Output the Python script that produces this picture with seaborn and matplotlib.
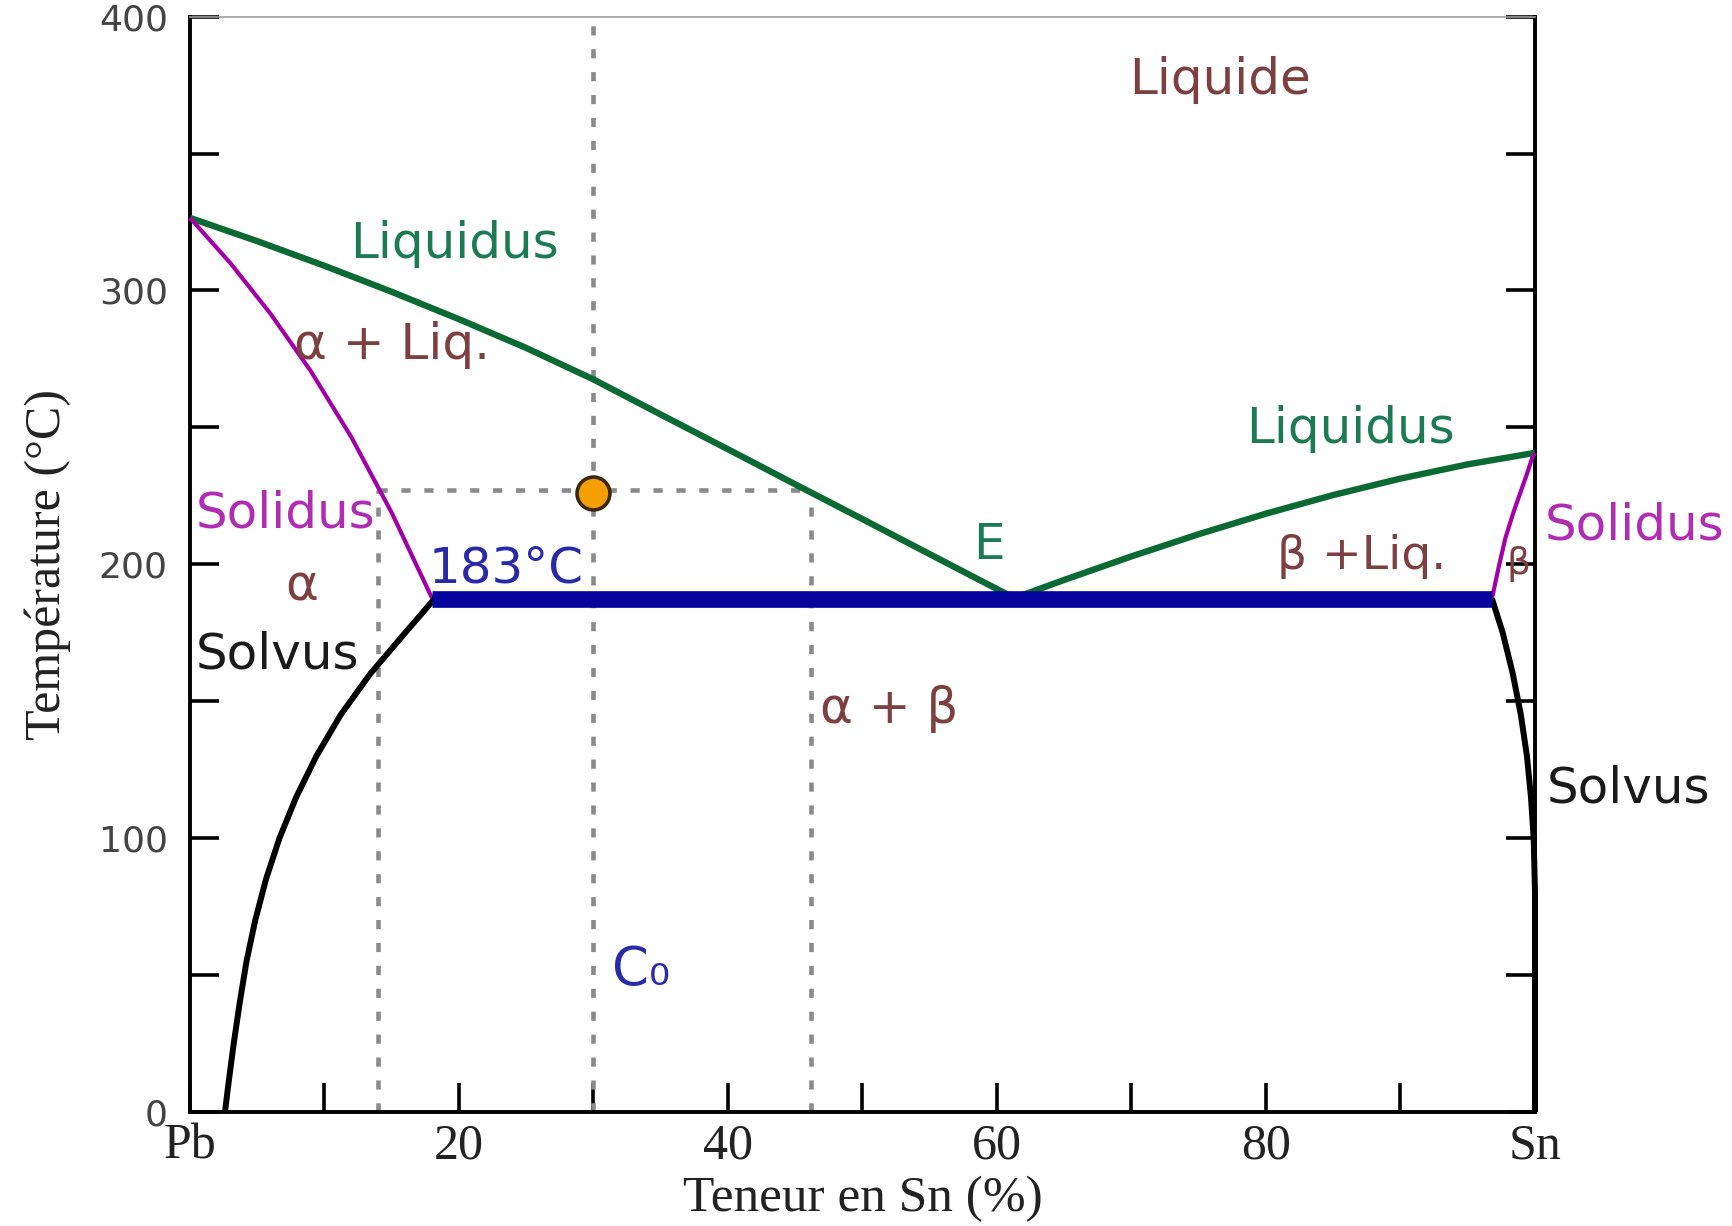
import matplotlib
matplotlib.use("Agg")
import matplotlib.pyplot as plt
import seaborn as sns

# ---------------- data ----------------
liq_left_x = [0, 5, 10, 15, 20, 25, 30, 35, 40, 45, 50, 55, 61.2]
liq_left_t = [326.5, 318, 309, 299.5, 289.5, 279, 267.5, 254.7, 242, 229.2, 216.5, 203.7, 187.9]

liq_right_x = [61.2, 65, 70, 75, 80, 85, 90, 95, 100]
liq_right_t = [187.5, 194.3, 202.9, 211.0, 218.5, 225.3, 231.3, 236.5, 240.7]

sol_left_x = [0, 3, 6, 9, 12, 15, 18]
sol_left_t = [326.5, 310, 291.4, 270.4, 246.4, 218.8, 187.6]

solv_left_x = [18.2, 16.0, 13.4, 11.2, 9.4, 7.9, 6.65, 5.65, 4.85, 4.2, 3.7, 3.25, 2.85, 2.6]
solv_left_t = [187.5, 175, 160, 145, 130, 115, 100, 85, 70, 55, 40, 25, 10, 0]

sol_right_x = [96.8, 97.3, 97.8, 98.4, 98.9, 99.4, 99.8, 100]
sol_right_t = [187.5, 199, 209.6, 219, 226, 233, 239, 240.7]

solv_right_x = [96.8, 97.6, 98.35, 98.95, 99.4, 99.7, 99.9, 100, 100]
solv_right_t = [187.5, 175, 160, 145, 130, 115, 100, 80, 0]

eut_x = [18, 96.8]
eut_t = [187.5, 187.5]

c0 = 30.0
t_point = 226.0
x_alpha_end = 14.0
x_liq_end = 46.2
t_guide = 227.0

x_ticks = [0, 10, 20, 30, 40, 50, 60, 70, 80, 90, 100]
x_ticklabels = ["Pb", "", "20", "", "40", "", "60", "", "80", "", "Sn"]
y_ticks = [0, 50, 100, 150, 200, 250, 300, 350, 400]
y_ticklabels = ["0", "", "100", "", "200", "", "300", "", "400"]

# ---------------- styling ----------------
sns.set_theme(style="white")
plt.rcParams["font.family"] = ["DejaVu Sans"]

GREEN = "#0b6a34"
MAGENTA = "#a300a8"
BLUE = "#05059c"
BROWN = "#7d3f40"
GREEN_T = "#1c7a55"
MAGENTA_T = "#b02db3"
BLUE_T = "#2a2aa8"

fig = plt.figure(figsize=(17.33, 12.26), dpi=100)
ax = fig.add_axes([190 / 1733, 1 - 1112 / 1226, (1535 - 190) / 1733, (1112 - 16.6) / 1226])

# guide dotted lines
dot = dict(color="#8a8a8a", linewidth=3.3, linestyle=(0, (2, 3)), zorder=1)
ax.plot([c0, c0], [0, 400], **dot)
ax.plot([x_alpha_end, x_liq_end], [t_guide, t_guide], **dot)
ax.plot([x_alpha_end, x_alpha_end], [0, t_guide], **dot)
ax.plot([x_liq_end, x_liq_end], [0, t_guide], **dot)

common = dict(sort=False, estimator=None, legend=False, ax=ax)
sns.lineplot(x=liq_left_x, y=liq_left_t, color=GREEN, linewidth=4.6, zorder=3, **common)
sns.lineplot(x=liq_right_x, y=liq_right_t, color=GREEN, linewidth=4.6, zorder=3, **common)
sns.lineplot(x=sol_left_x, y=sol_left_t, color=MAGENTA, linewidth=3.0, zorder=3, **common)
sns.lineplot(x=sol_right_x, y=sol_right_t, color=MAGENTA, linewidth=3.0, zorder=3, **common)
sns.lineplot(x=solv_left_x, y=solv_left_t, color="black", linewidth=4.3, zorder=3, **common)
sns.lineplot(x=solv_right_x, y=solv_right_t, color="black", linewidth=4.3, zorder=3, **common)
sns.lineplot(x=eut_x, y=eut_t, color=BLUE, linewidth=12, zorder=4, **common)
for ln in ax.get_lines():
    ln.set_clip_on(False)
    ln.set_solid_capstyle("butt")
    ln.set_solid_joinstyle("round")

sns.scatterplot(x=[c0], y=[t_point], s=560, color="#f5a000", edgecolor="#3a2808",
                linewidth=2.6, zorder=6, legend=False, ax=ax, clip_on=False)

# annotations
notes = [
    ("Liquide", 76.6, 377, BROWN, 36, "center"),
    ("Liquidus", 19.7, 317, GREEN_T, 36, "center"),
    ("α + Liq.", 15.0, 280, BROWN, 36, "center"),
    ("Liquidus", 86.3, 249.5, GREEN_T, 36, "center"),
    ("Solidus", 0.4, 218.4, MAGENTA_T, 36, "left"),
    ("183°C", 23.5, 198.3, BLUE_T, 36, "center"),
    ("E", 59.4, 207, GREEN_T, 36, "center"),
    ("α", 8.3, 192, BROWN, 36, "center"),
    ("Solvus", 0.4, 167, "#1a1a1a", 36, "left"),
    ("α + β", 52.0, 147, BROWN, 36, "center"),
    ("β +Liq.", 87.1, 203, BROWN, 34, "center"),
    ("β", 98.75, 200, BROWN, 27, "center"),
    ("Solidus", 100.7, 214, MAGENTA_T, 36, "left"),
    ("Solvus", 100.9, 118, "#1a1a1a", 36, "left"),
    ("C₀", 33.5, 52, BLUE_T, 38, "center"),
]
for txt, x, y, col, fs, ha in notes:
    ax.text(x, y, txt, color=col, fontsize=fs, ha=ha, va="center", zorder=7, clip_on=False)

# axes
ax.set_xlim(0, 100)
ax.set_ylim(0, 400)
ax.set_xticks(x_ticks)
ax.set_xticklabels(x_ticklabels, family="Liberation Serif", fontsize=36, color="#222222")
ax.set_yticks(y_ticks)
ax.set_yticklabels(y_ticklabels, fontsize=26, color="#444444")
ax.tick_params(axis="both", direction="in", length=21, width=2.6, color="black")
ax.tick_params(axis="x", pad=8)
ax.tick_params(axis="y", pad=16, right=True, left=True)
ax.tick_params(axis="x", top=False, bottom=True)

for side in ["left", "bottom", "right"]:
    ax.spines[side].set_visible(True)
    ax.spines[side].set_color("black")
    ax.spines[side].set_linewidth(2.8)
ax.spines["top"].set_visible(True)
ax.spines["top"].set_color("#a0a0a0")
ax.spines["top"].set_linewidth(1.2)

ax.set_xlabel("Teneur en Sn (%)", family="Liberation Serif", fontsize=37, color="#222222", labelpad=4)
ax.set_ylabel("Température (°C)", family="Liberation Serif", fontsize=36, color="#222222", labelpad=20)

ax.grid(False)
fig.savefig("out.png", dpi=100, facecolor="white")
